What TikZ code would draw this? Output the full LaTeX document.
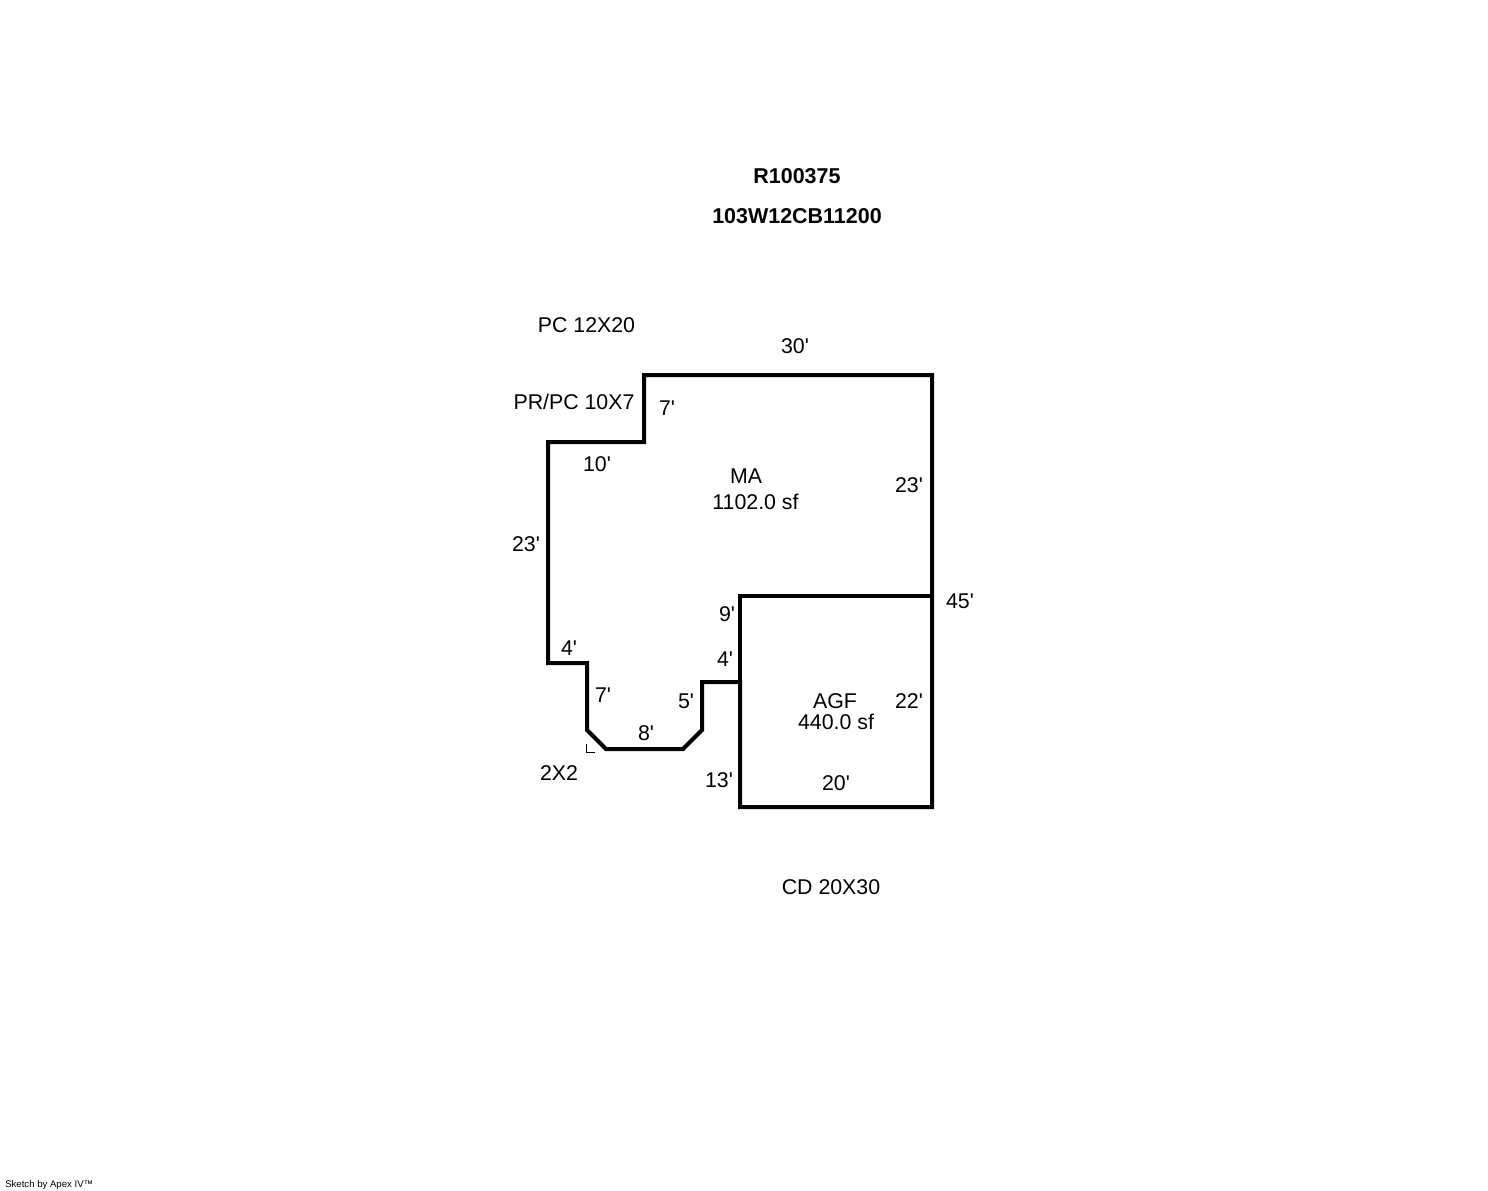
\documentclass[tikz,border=0pt]{standalone}
\usepackage{fontspec}
\setmainfont{Liberation Sans}[Ligatures=TeXOff]
\begin{document}
\begin{tikzpicture}[
    x=0.75pt, y=-0.75pt,
    wall/.style={line width=3pt, line join=miter, black},
    dim/.style={anchor=base, inner sep=0pt, font=\fontsize{16}{18}\selectfont},
    title/.style={anchor=base, inner sep=0pt, font=\fontsize{16.1}{18}\selectfont\bfseries}
]
    \useasboundingbox (0,0) rectangle (1488,1190);
    % outline
    \draw[wall] (644,375) -- (932,375) -- (932,807) -- (740,807) -- (740,682) -- (702,682)
        -- (702,730) -- (683,749) -- (606,749) -- (587,730) -- (587,663) -- (548,663)
        -- (548,442) -- (644,442) -- cycle;
    \draw[wall] (740,682) -- (740,596) -- (932,596);
    % angle mark
    \draw[line width=0.75pt] (586,743.5) -- (586,752.5) -- (595,752.5);

    \node[title] (parcel) at (797,183) {R100375};
    \node[title] (mapno) at (797,223) {103W12CB11200};

    \node[dim] (pc) at (586.5,332) {PC 12X20};
    \node[dim] (prpc) at (574,409) {PR/PC 10X7};
    \node[dim] (twobytwo) at (559,780) {2X2};
    \node[dim] (cd) at (831,894) {CD 20X30};

    \node[dim] (ma) at (746,483) {MA};
    \node[dim] (maarea) at (755.5,509) {1102.0 sf};
    \node[dim] (agf) at (835,708) {AGF};
    \node[dim] (agfarea) at (836,729) {440.0 sf};

    \node[dim] (top) at (795,353) {30'};
    \node[dim] (stepv) at (667,415) {7'};
    \node[dim] (steph) at (597,471) {10'};
    \node[dim] (leftv) at (526,551) {23'};
    \node[dim] (rightup) at (909,492) {23'};
    \node[dim] (rightall) at (960,608) {45'};
    \node[dim] (garin) at (727,621) {9'};
    \node[dim] (jogh) at (725,666) {4'};
    \node[dim] (lefth) at (569,655) {4'};
    \node[dim] (bayleft) at (603,702) {7'};
    \node[dim] (bayright) at (686,708) {5'};
    \node[dim] (baybot) at (646,740) {8'};
    \node[dim] (garright) at (909,708) {22'};
    \node[dim] (garleft) at (719,787) {13'};
    \node[dim] (garbot) at (836,790) {20'};

    \node[anchor=base west, inner sep=0pt, font=\fontsize{7.2}{8}\selectfont] (credit) at (5,1187) {Sketch by Apex IV™};
\end{tikzpicture}
\end{document}
